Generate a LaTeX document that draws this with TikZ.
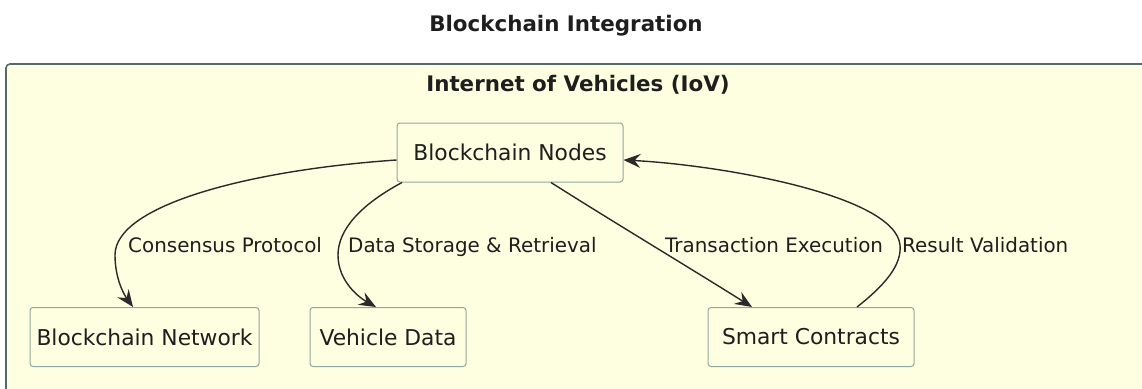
\documentclass[tikz,border=0pt]{standalone}
\usepackage{fontspec}
\setmainfont{DejaVu Sans}
\usetikzlibrary{arrows.meta}
\definecolor{pkgfill}{HTML}{FEFEE0}
\definecolor{pkgline}{HTML}{56696A}
\definecolor{boxline}{HTML}{91A89D}
\definecolor{edgecol}{HTML}{2A2A2A}
\definecolor{txt}{HTML}{1E1E1E}
\begin{document}
\begin{tikzpicture}[x=1pt,y=-1pt,
  box/.style={draw=boxline, line width=1pt, fill=pkgfill, rounded corners=3pt,
    minimum height=59pt, inner sep=0pt, text=txt,
    font=\fontsize{21.8}{26}\selectfont},
  flow/.style={draw=edgecol, line width=1.4pt,
    -{Stealth[length=17pt,width=14pt,inset=6pt]}},
  lbl/.style={anchor=base west, inner sep=0pt, text=txt,
    font=\fontsize{19.9}{24}\selectfont},
  ttl/.style={anchor=base, inner sep=0pt, text=txt,
    font=\fontsize{21.4}{26}\selectfont\bfseries}]
\useasboundingbox (0,0) rectangle (1142,388);
\clip (0,0) rectangle (1142,388);
\fill[white] (0,0) rectangle (1142,388);

% diagram title
\node[ttl] (title) at (566,31) {Blockchain Integration};

% package frame and its title
\draw[draw=pkgline, line width=1.6pt, fill=pkgfill, rounded corners=4pt]
  (6,64) rectangle (1170,420);
\node[ttl] (pkg) at (578,91) {Internet of Vehicles (IoV)};

% components
\node[box, minimum width=226pt] (bnodes) at (510,152.5) {Blockchain Nodes};
\node[box, minimum width=229pt] (bnet)   at (144.5,337) {Blockchain Network};
\node[box, minimum width=156pt] (vdata)  at (388,337)   {Vehicle Data};
\node[box, minimum width=206pt] (sc)     at (811,337)   {Smart Contracts};

% connectors
\draw[flow] ([yshift=-7.5pt]bnodes.west)
  .. controls (250,170) and (115,205) .. (115,255)
  .. controls (115,280) and (125,296) .. ([xshift=-11.5pt]bnet.north);
\draw[flow] ([xshift=-108pt]bnodes.south)
  .. controls (360,205) and (338,230) .. (338,255)
  .. controls (338,282) and (360,298) .. ([xshift=-12pt]vdata.north);
\draw[flow] ([xshift=41pt]bnodes.south)
  .. controls (610,220) and (690,268) .. ([xshift=-59pt]sc.north);
\draw[flow] ([xshift=46pt]sc.north)
  .. controls (885,285) and (902,265) .. (900,245)
  .. controls (895,195) and (720,165) .. ([yshift=-7.5pt]bnodes.east);

% connector labels
\node[lbl] (l1) at (128,252) {Consensus Protocol};
\node[lbl] (l2) at (348,252) {Data Storage \& Retrieval};
\node[lbl] (l3) at (665,252) {Transaction Execution};
\node[lbl] (l4) at (902,252) {Result Validation};
\end{tikzpicture}
\end{document}
